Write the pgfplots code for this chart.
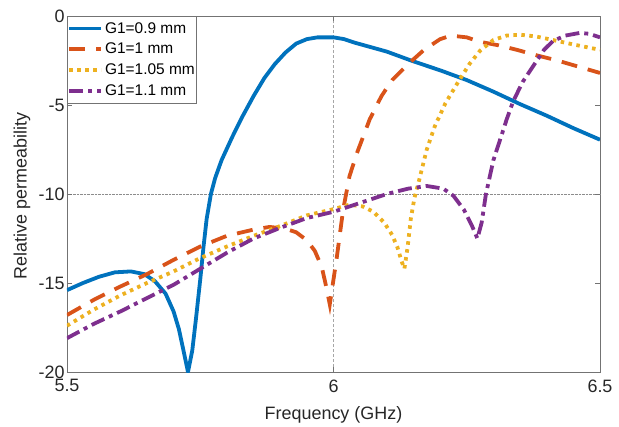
\documentclass[border=0pt]{standalone}
\usepackage{pgfplots}
\pgfplotsset{compat=1.18}
\usepackage{fontspec}
\setmainfont{Liberation Sans}
\definecolor{mblue}{rgb}{0,0.447,0.741}
\definecolor{mred}{rgb}{0.85,0.325,0.098}
\definecolor{myellow}{rgb}{0.929,0.694,0.125}
\definecolor{mpurple}{rgb}{0.494,0.184,0.556}
\begin{document}
\begin{tikzpicture}
\path (-67bp,-54bp) rectangle (552bp,372bp);
\begin{axis}[
  at={(0,0)}, anchor=south west,
  scale only axis, width=533bp, height=356bp,
  xmin=5.5, xmax=6.5, ymin=-20, ymax=0,
  xtick={5.5,6,6.5}, ytick={-20,-15,-10,-5,0},
  xticklabels={5.5,6,6.5},
  yticklabels={-20,-15,-10,-5,0},
  extra x ticks={6}, extra x tick labels={},
  extra x tick style={grid=major, major grid style={densely dashed, black!35, line width=0.6pt}},
  extra y ticks={-10}, extra y tick labels={},
  extra y tick style={grid=major, major grid style={densely dotted, black!45, line width=0.6pt}},
  tick align=inside, major tick length=5bp,
  tick style={black!55, line width=0.6pt},
  axis line style={black!55, line width=0.8pt},
  ticklabel style={font=\fontsize{18}{21}\selectfont, text=black!85},
  /pgf/number format/assume math mode=true,
  xticklabel style={yshift=-4bp},
  yticklabel style={xshift=1bp},
  xlabel={Frequency (GHz)},
  ylabel={Relative permeability},
  xlabel style={font=\fontsize{18}{21}\selectfont, text=black!85, at={(axis description cs:0.5,0)}, anchor=center, yshift=-43bp},
  ylabel style={font=\fontsize{18}{21}\selectfont, text=black!85, at={(axis description cs:-0.0845,0.495)}, anchor=center},
  legend style={at={(0,1)}, anchor=north west, draw=black!55, fill=white, line width=0.6pt,
    font=\fontsize{15.5}{18}\selectfont, inner xsep=0bp, inner ysep=4bp, row sep=4.5bp,
    cells={anchor=west}},
  legend image code/.code={\draw[#1] (-2bp,0bp) -- (30bp,0bp);},
  legend cell align=left,
  clip=true,
]
\addplot[mblue, line width=3.8bp, line join=round] coordinates {
(5.5,-15.4) (5.53,-15.0) (5.56,-14.65) (5.59,-14.4) (5.62,-14.35) (5.645,-14.5)
(5.665,-14.9) (5.685,-15.6) (5.70,-16.6) (5.71,-17.6) (5.72,-19.0) (5.727,-20)
(5.735,-18.8) (5.742,-17.0) (5.75,-14.8) (5.756,-13.0) (5.762,-11.4) (5.77,-10.0)
(5.778,-9.1) (5.79,-8.1) (5.81,-6.8) (5.83,-5.6) (5.85,-4.5) (5.87,-3.5) (5.89,-2.7) (5.91,-2.05)
(5.93,-1.55) (5.95,-1.3) (5.97,-1.2) (6.0,-1.2) (6.02,-1.3) (6.04,-1.5) (6.07,-1.75)
(6.1,-2.0) (6.15,-2.55) (6.2,-3.05) (6.25,-3.6) (6.3,-4.25) (6.35,-4.95) (6.4,-5.6)
(6.45,-6.3) (6.5,-6.95)
};
\addlegendentry{G1=0.9 mm}
\addplot[mred, line width=3.8bp, dash pattern=on 16bp off 11bp] coordinates {
(5.5,-16.8) (5.55,-15.95) (5.6,-15.2) (5.65,-14.5) (5.7,-13.7) (5.75,-12.95)
(5.8,-12.35) (5.85,-12.0) (5.88,-11.85) (5.91,-11.95) (5.93,-12.15) (5.95,-12.6)
(5.965,-13.2) (5.978,-14.1) (5.987,-15.3) (5.993,-16.2) (5.999,-15.0) (6.006,-13.6)
(6.018,-10.9) (6.03,-9.0) (6.044,-7.7) (6.068,-5.8) (6.09,-4.5) (6.11,-3.6)
(6.14,-2.7) (6.17,-1.9) (6.2,-1.3) (6.22,-1.1) (6.25,-1.2) (6.275,-1.45)
(6.31,-1.65) (6.344,-1.9) (6.38,-2.2) (6.42,-2.5) (6.46,-2.85) (6.5,-3.2)
};
\addlegendentry{G1=1 mm}
\addplot[myellow, line width=3.8bp, dash pattern=on 3.5bp off 4.5bp] coordinates {
(5.5,-17.4) (5.55,-16.5) (5.6,-15.7) (5.65,-15.0) (5.7,-14.35) (5.75,-13.6)
(5.8,-12.95) (5.85,-12.35) (5.9,-11.8) (5.95,-11.2) (6.0,-10.85) (6.03,-10.6)
(6.055,-10.7) (6.075,-11.0) (6.095,-11.6) (6.11,-12.3) (6.12,-13.0) (6.128,-13.8)
(6.133,-14.2) (6.139,-13.0) (6.145,-11.4) (6.152,-10.2) (6.16,-9.3) (6.175,-7.5)
(6.19,-6.2) (6.21,-4.9) (6.232,-3.8) (6.255,-2.7) (6.275,-1.95) (6.3,-1.35)
(6.325,-1.1) (6.35,-1.05) (6.38,-1.15) (6.412,-1.35) (6.45,-1.6) (6.5,-1.9)
};
\addlegendentry{G1=1.05 mm}
\addplot[mpurple, line width=3.8bp, dash pattern=on 14bp off 5bp on 4bp off 5bp] coordinates {
(5.5,-18.1) (5.55,-17.3) (5.6,-16.6) (5.65,-15.85) (5.7,-15.1) (5.75,-14.2)
(5.8,-13.3) (5.85,-12.5) (5.9,-11.9) (5.95,-11.35) (6.0,-11.0) (6.05,-10.5)
(6.1,-10.0) (6.14,-9.7) (6.175,-9.55) (6.206,-9.7) (6.225,-10.1) (6.245,-10.9)
(6.26,-11.8) (6.27,-12.5) (6.278,-11.6) (6.286,-10.0) (6.3,-8.1) (6.312,-7.0)
(6.325,-5.8) (6.337,-4.8) (6.355,-3.7) (6.375,-2.8) (6.395,-1.9) (6.412,-1.4)
(6.435,-1.1) (6.462,-0.95) (6.48,-1.0) (6.5,-1.2)
};
\addlegendentry{G1=1.1 mm}
\end{axis}
\end{tikzpicture}
\end{document}
